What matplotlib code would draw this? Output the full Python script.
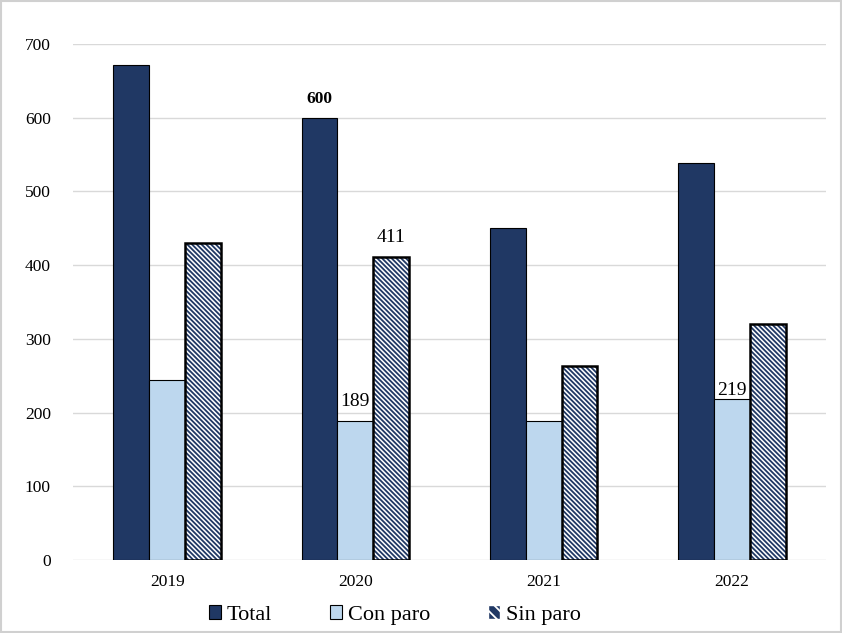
import matplotlib
matplotlib.use("Agg")
import matplotlib.pyplot as plt
from matplotlib.patches import Patch, Rectangle
import numpy as np

years = ["2019", "2020", "2021", "2022"]
total = [671, 600, 450, 539]
con_paro = [244, 189, 188, 219]
sin_paro = [430, 411, 263, 320]

NAVY = "#203864"
LIGHT = "#bdd7ee"

plt.rcParams["font.family"] = ["Liberation Serif", "DejaVu Serif"]
plt.rcParams["hatch.linewidth"] = 1.3

fig = plt.figure(figsize=(8.42, 6.33), dpi=100)
ax = fig.add_axes([0.0867, 0.1153, 0.8943, 0.8152])
fig.add_artist(Rectangle((0.001, 0.001), 0.998, 0.998, transform=fig.transFigure,
                         fill=False, edgecolor="#d0d0d0", linewidth=1.5))

x = np.arange(len(years))
w = 0.19

b_total = ax.bar(x - w, total, w, color=NAVY, edgecolor="black", linewidth=0.8, zorder=3)
b_con = ax.bar(x, con_paro, w, color=LIGHT, edgecolor="black", linewidth=0.8, zorder=3)
b_sin = ax.bar(x + w, sin_paro, w, color="white", edgecolor=NAVY, hatch="\\" * 7,
               linewidth=0, zorder=3)
ax.bar(x + w, sin_paro, w, fill=False, edgecolor="black", linewidth=1.8, zorder=4)

ax.set_ylim(0, 700)
ax.set_xlim(-0.5, 3.5)
ax.set_yticks(range(0, 701, 100))
ax.set_xticks(x)
ax.set_xticklabels(years)
ax.tick_params(length=0, labelsize=12.5, pad=10)
ax.tick_params(axis="y", pad=16)
ax.yaxis.grid(True, color="#d9d9d9", linewidth=1, zorder=0)
for s in ax.spines.values():
    s.set_visible(False)

# value labels
ax.annotate(f"{total[1]}", (b_total[1].get_x() + w / 2, total[1]), xytext=(0, 8),
            textcoords="offset points", ha="center", va="bottom", fontsize=12.5,
            fontweight="bold")
ax.annotate(f"{con_paro[1]}", (b_con[1].get_x() + w / 2, con_paro[1]), xytext=(0, 8),
            textcoords="offset points", ha="center", va="bottom", fontsize=14)
ax.annotate(f"{sin_paro[1]}", (b_sin[1].get_x() + w / 2, sin_paro[1]), xytext=(0, 8),
            textcoords="offset points", ha="center", va="bottom", fontsize=14)
ax.annotate(f"{con_paro[3]}", (b_con[3].get_x() + w / 2, con_paro[3]), xytext=(0, 0),
            textcoords="offset points", ha="center", va="bottom", fontsize=14)

handles = [
    Patch(facecolor=NAVY, edgecolor="black", linewidth=0.8),
    Patch(facecolor=LIGHT, edgecolor="black", linewidth=0.8),
    Patch(facecolor=NAVY, edgecolor="white", hatch="\\\\\\"),
]
leg = fig.legend(handles, ["Total", "Con paro", "Sin paro"], loc="center",
                 bbox_to_anchor=(0.469, 0.028), ncol=3, frameon=False, fontsize=16,
                 handlelength=0.55, handleheight=0.55, handletextpad=0.25,
                 columnspacing=2.6)

fig.savefig("out.png", dpi=100)
